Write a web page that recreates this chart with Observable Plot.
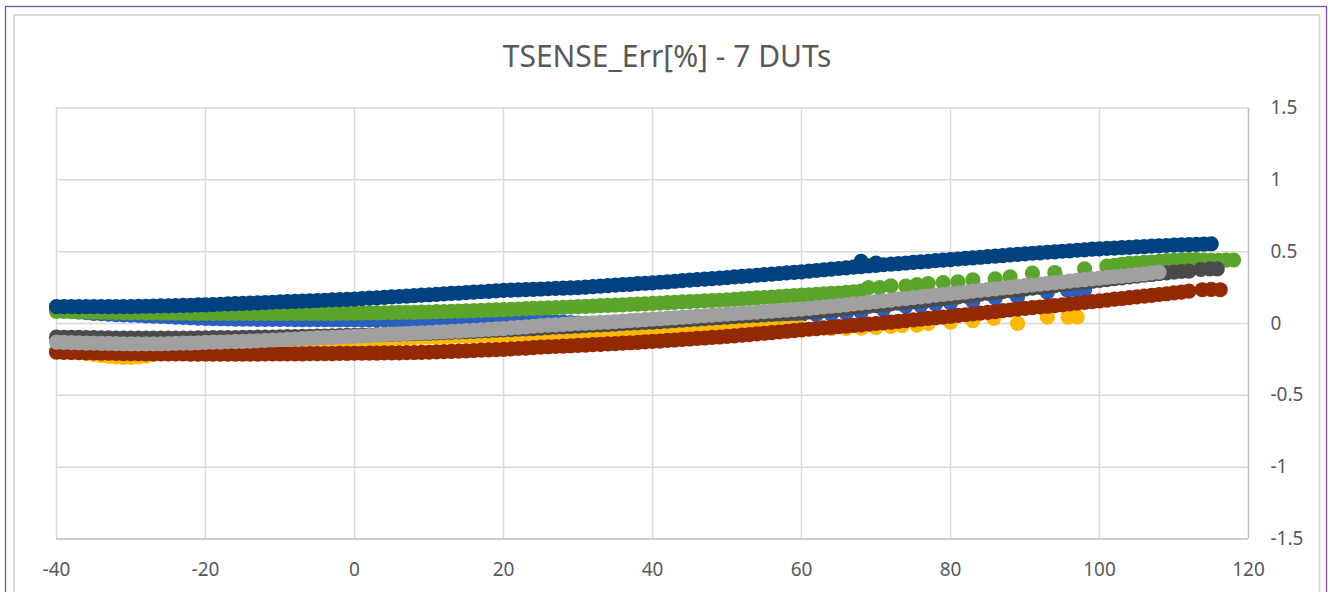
<!DOCTYPE html>
<html><head><meta charset="utf-8">
<script src="https://cdn.jsdelivr.net/npm/d3@7"></script>
<script src="https://cdn.jsdelivr.net/npm/@observablehq/plot@0.6"></script>
<style>body{margin:0;background:#fff;} #chart{width:1328px;height:592px;overflow:hidden}</style>
</head><body><div id="chart"></div>
<script>
const chartTitle = "TSENSE_Err[%] - 7 DUTs";
const xTicks = [-40,-20,0,20,40,60,80,100,120];
const yTicks = [-1.5,-1,-0.5,0,0.5,1,1.5];

// temperature of each dense sample (°C)
const temps = [-40,-39,-38,-37,-36,-35,-34,-33,-32,-31,-30,-29,-28,-27,-26,-25,-24,-23,-22,-21,-20,-19,-18,-17,-16,-15,-14,-13,-12,-11,-10,-9,-8,-7,-6,-5,-4,-3,-2,-1,0,1,2,3,4,5,6,7,8,9,10,11,12,13,14,15,16,17,18,19,20,21,22,23,24,25,26,27,28,29,30,31,32,33,34,35,36,37,38,39,40,41,42,43,44,45,46,47,48,49,50,51,52,53,54,55,56,57,58,59,60,61,62,63,64,65,66,67,68,69,70,71,72,73,74,75,76,77,78,79,80,81,82,83,84,85,86,87,88,89,90,91,92,93,94,95,96,97,98,99,100,101,102,103,104,105,106,107,108,109,110,111,112,113,114,115,116,117,118];

// DUT series (dense sweep values, aligned with temps)
const navyVals = [0.118,0.118,0.117,0.117,0.117,0.117,0.117,0.118,0.118,0.118,0.118,
0.119,0.12,0.121,0.122,0.123,0.124,0.126,0.127,0.129,0.13,
0.132,0.134,0.136,0.138,0.14,0.142,0.144,0.146,0.148,0.15,
0.152,0.154,0.156,0.158,0.16,0.162,0.164,0.166,0.168,0.17,
0.173,0.176,0.179,0.182,0.185,0.188,0.191,0.194,0.197,0.2,
0.203,0.206,0.209,0.212,0.215,0.218,0.221,0.224,0.227,0.23,
0.232,0.234,0.236,0.238,0.24,0.242,0.244,0.246,0.248,0.25,
0.253,0.257,0.26,0.263,0.267,0.27,0.273,0.277,0.28,0.283,
0.287,0.29,0.294,0.298,0.302,0.305,0.309,0.313,0.316,0.32,
0.324,0.328,0.332,0.336,0.34,0.344,0.348,0.352,0.356,0.36,
0.365,0.369,0.374,0.378,0.383,0.387,0.392,0.396,0.401,0.405,
0.409,0.413,0.417,0.421,0.425,0.429,0.433,0.437,0.441,0.445,
0.449,0.453,0.457,0.461,0.465,0.469,0.473,0.477,0.481,0.485,
0.489,0.492,0.496,0.499,0.503,0.506,0.51,0.513,0.517,0.52,
0.523,0.525,0.528,0.53,0.533,0.535,0.538,0.54,0.543,0.545,
0.547,0.549,0.551,0.553,0.555];
const navyExtraT = [68,70];
const navyExtraV = [0.432,0.42];

const greenVals = [0.085,0.084,0.083,0.082,0.081,0.08,0.079,0.078,0.077,0.076,0.075,
0.075,0.074,0.074,0.073,0.073,0.072,0.072,0.071,0.071,0.07,
0.07,0.07,0.07,0.07,0.07,0.07,0.07,0.07,0.07,0.07,
0.07,0.07,0.07,0.071,0.071,0.071,0.071,0.072,0.072,0.072,
0.073,0.074,0.074,0.075,0.076,0.077,0.077,0.078,0.079,0.08,
0.082,0.083,0.085,0.087,0.088,0.09,0.092,0.093,0.095,0.097,
0.099,0.101,0.103,0.105,0.107,0.109,0.111,0.113,0.115,0.117,
0.119,0.121,0.124,0.126,0.128,0.13,0.133,0.135,0.137,0.14,
0.142,0.145,0.147,0.15,0.152,0.155,0.157,0.16,0.162,0.165,
0.168,0.171,0.175,0.178,0.181,0.184,0.187,0.191,0.194,0.197,
0.2,0.203,0.206,0.209,0.212,0.216,0.22,0.225];
const greenExtraT = [69,70.5,72,74,75.5,77,79,81,83,86,88,91,94,98,101,102,103,104,105,106,107,108,109,110,111,112,113,114,115,116,117,118];
const greenExtraV = [0.25,0.25,0.262,0.26,0.27,0.278,0.285,0.29,0.303,0.31,0.325,0.35,0.355,0.38,0.4,0.405,0.412,0.418,0.42,0.425,0.428,0.432,0.437,0.44,0.443,0.445,0.444,0.442,0.44,0.44,0.441,0.442];

const blueVals = [0.1,0.093,0.086,0.08,0.075,0.071,0.068,0.065,0.062,0.06,0.058,
0.056,0.053,0.051,0.049,0.047,0.044,0.042,0.04,0.037,0.035,
0.034,0.033,0.032,0.031,0.03,0.03,0.029,0.029,0.028,0.028,
0.028,0.027,0.027,0.027,0.027,0.027,0.026,0.026,0.026,0.026,
0.026,0.026,0.026,0.026,0.026,0.026,0.027,0.027,0.027,0.027,
0.027,0.027,0.028,0.03,0.03,0.029,0.028,0.027,0.026,0.025,
0.023,0.021,0.019,0.017,0.015,0.013,0.011,0.009,0.006,0.002,
0.0,0.0,0.001,0.003,0.005,0.007,0.009,0.011,0.013,0.015,
0.018,0.02,0.023,0.025,0.028,0.03,0.033,0.035,0.038,0.04,
0.042,0.044,0.046,0.048,0.05,0.052,0.054,0.056,0.058,0.06];
const blueExtraT = [62,64,66,68,71,74,76,78,80,83,86,89,93,95.7,96.8,98];
const blueExtraV = [0.062,0.064,0.07,0.08,0.097,0.119,0.125,0.135,0.143,0.154,0.178,0.185,0.216,0.232,0.235,0.235];

const yellowVals = [-0.18,-0.186,-0.193,-0.2,-0.208,-0.215,-0.222,-0.228,-0.232,-0.235,-0.236,
-0.233,-0.225,-0.215,-0.207,-0.2,-0.196,-0.192,-0.188,-0.184,-0.18,
-0.177,-0.174,-0.171,-0.168,-0.165,-0.162,-0.159,-0.156,-0.153,-0.15,
-0.147,-0.144,-0.141,-0.138,-0.135,-0.132,-0.129,-0.126,-0.123,-0.12,
-0.117,-0.114,-0.111,-0.108,-0.105,-0.103,-0.1,-0.098,-0.096,-0.094,
-0.093,-0.091,-0.09,-0.088,-0.087,-0.086,-0.084,-0.083,-0.082,-0.08,
-0.078,-0.077,-0.075,-0.073,-0.072,-0.07,-0.068,-0.066,-0.064,-0.062,
-0.06,-0.059,-0.057,-0.055,-0.054,-0.052,-0.05,-0.049,-0.047,-0.045,
-0.044,-0.043,-0.042,-0.041,-0.04,-0.039,-0.038,-0.037,-0.036,-0.035,
-0.035,-0.034,-0.034,-0.033,-0.033,-0.032,-0.032,-0.031,-0.031,-0.03];
const yellowExtraT = [62,64,66,68,70,72,73.5,75.5,77,80,83,85.8,89,93,95.8,97];
const yellowExtraV = [-0.035,-0.036,-0.034,-0.032,-0.028,-0.02,-0.014,-0.012,0.0,0.01,0.02,0.035,0.0,0.044,0.044,0.044];

const darkGrayVals = [-0.095,-0.096,-0.097,-0.097,-0.098,-0.099,-0.1,-0.1,-0.101,-0.101,-0.102,
-0.102,-0.102,-0.102,-0.102,-0.102,-0.102,-0.101,-0.101,-0.1,-0.1,
-0.099,-0.099,-0.098,-0.098,-0.097,-0.096,-0.095,-0.095,-0.094,-0.093,
-0.092,-0.091,-0.09,-0.089,-0.088,-0.087,-0.086,-0.085,-0.083,-0.082,
-0.081,-0.08,-0.078,-0.077,-0.075,-0.074,-0.072,-0.071,-0.069,-0.068,
-0.066,-0.064,-0.061,-0.059,-0.057,-0.055,-0.052,-0.05,-0.047,-0.045,
-0.042,-0.04,-0.037,-0.035,-0.032,-0.029,-0.026,-0.024,-0.021,-0.018,
-0.015,-0.012,-0.01,-0.007,-0.004,-0.001,0.002,0.004,0.007,0.01,
0.013,0.017,0.02,0.024,0.027,0.031,0.034,0.038,0.041,0.045,
0.048,0.051,0.054,0.057,0.06,0.063,0.066,0.069,0.072,0.075,
0.08,0.085,0.09,0.095,0.1,0.105,0.11,0.115,0.12,0.125,
0.13,0.136,0.141,0.147,0.152,0.158,0.163,0.169,0.174,0.18,
0.186,0.192,0.198,0.204,0.21,0.216,0.222,0.228,0.234,0.24,
0.246,0.252,0.258,0.264,0.27,0.276,0.282,0.288,0.294,0.3,
0.306,0.312,0.318,0.324,0.33,0.336,0.341,0.347,0.352,0.358,
0.362,0.365];
const darkGrayExtraT = [113.6,114.8,115.8];
const darkGrayExtraV = [0.376,0.38,0.38];

const redVals = [-0.2,-0.201,-0.202,-0.203,-0.204,-0.205,-0.206,-0.207,-0.208,-0.209,-0.21,
-0.21,-0.211,-0.211,-0.211,-0.212,-0.212,-0.212,-0.213,-0.213,-0.213,
-0.213,-0.213,-0.213,-0.213,-0.213,-0.213,-0.213,-0.212,-0.212,-0.212,
-0.212,-0.211,-0.211,-0.21,-0.21,-0.209,-0.209,-0.208,-0.208,-0.207,
-0.207,-0.206,-0.206,-0.205,-0.205,-0.204,-0.203,-0.202,-0.201,-0.2,
-0.198,-0.196,-0.194,-0.192,-0.19,-0.188,-0.186,-0.184,-0.182,-0.18,
-0.177,-0.174,-0.171,-0.168,-0.165,-0.162,-0.16,-0.157,-0.155,-0.152,
-0.15,-0.147,-0.145,-0.142,-0.14,-0.137,-0.134,-0.131,-0.128,-0.125,
-0.122,-0.118,-0.115,-0.111,-0.108,-0.104,-0.101,-0.097,-0.094,-0.09,
-0.086,-0.081,-0.077,-0.072,-0.068,-0.063,-0.059,-0.054,-0.05,-0.045,
-0.04,-0.036,-0.031,-0.027,-0.022,-0.018,-0.013,-0.009,-0.004,0.0,
0.005,0.01,0.015,0.02,0.025,0.03,0.035,0.04,0.045,0.05,
0.056,0.061,0.067,0.072,0.078,0.083,0.089,0.094,0.1,0.105,
0.11,0.115,0.12,0.125,0.13,0.136,0.141,0.147,0.152,0.158,
0.163,0.169,0.174,0.18,0.185,0.191,0.196,0.202,0.207,0.213,
0.219,0.225];
const redExtraT = [113.8,115,116.2];
const redExtraV = [0.235,0.237,0.235];

const lightGrayVals = [-0.13,-0.131,-0.133,-0.134,-0.136,-0.137,-0.138,-0.139,-0.14,-0.141,-0.142,
-0.142,-0.142,-0.141,-0.141,-0.14,-0.139,-0.137,-0.136,-0.134,-0.132,
-0.13,-0.129,-0.127,-0.126,-0.124,-0.122,-0.12,-0.118,-0.115,-0.113,
-0.11,-0.108,-0.105,-0.103,-0.1,-0.098,-0.096,-0.094,-0.092,-0.09,
-0.087,-0.084,-0.08,-0.077,-0.074,-0.072,-0.07,-0.067,-0.065,-0.063,
-0.06,-0.058,-0.055,-0.053,-0.05,-0.047,-0.044,-0.041,-0.038,-0.035,
-0.031,-0.027,-0.023,-0.019,-0.015,-0.012,-0.009,-0.006,-0.003,0.0,
0.003,0.005,0.008,0.01,0.013,0.016,0.02,0.023,0.027,0.03,
0.033,0.037,0.04,0.044,0.047,0.051,0.054,0.058,0.061,0.065,
0.068,0.072,0.075,0.079,0.082,0.086,0.089,0.093,0.096,0.1,
0.105,0.11,0.115,0.12,0.125,0.13,0.136,0.141,0.147,0.152,
0.158,0.163,0.169,0.174,0.18,0.186,0.191,0.197,0.202,0.208,
0.214,0.219,0.225,0.23,0.236,0.241,0.247,0.252,0.258,0.263,
0.268,0.274,0.279,0.285,0.29,0.295,0.301,0.306,0.311,0.316,
0.321,0.326,0.33,0.335,0.34,0.346,0.352,0.358];

// draw order: first listed is at the bottom
const series = [
  {name:"DUT3", color:"#2a5fbf", vals:blueVals, extraT:blueExtraT, extraV:blueExtraV},
  {name:"DUT6", color:"#ffb900", vals:yellowVals, extraT:yellowExtraT, extraV:yellowExtraV},
  {name:"DUT2", color:"#5ba52a", vals:greenVals, extraT:greenExtraT, extraV:greenExtraV},
  {name:"DUT4", color:"#4a4a4a", vals:darkGrayVals, extraT:darkGrayExtraT, extraV:darkGrayExtraV},
  {name:"DUT7", color:"#922900", vals:redVals, extraT:redExtraT, extraV:redExtraV},
  {name:"DUT5", color:"#a0a0a0", vals:lightGrayVals, extraT:[], extraV:[]},
  {name:"DUT1", color:"#00427f", vals:navyVals, extraT:navyExtraT, extraV:navyExtraV}
];

const dotMarks = series.map(s => {
  const rows = s.vals.map((v, i) => ({t: temps[i], v}))
    .concat(s.extraT.map((t, i) => ({t, v: s.extraV[i]})));
  return Plot.dot(rows, {x: "t", y: "v", r: 7.6, fill: s.color, stroke: "none"});
});

const plot = Plot.plot({
  width: 1328, height: 592,
  marginLeft: 56, marginRight: 80, marginTop: 107.5, marginBottom: 53.5,
  x: {domain: [-40, 120], label: null},
  y: {domain: [-1.5, 1.5], label: null},
  style: {fontFamily: "'Noto Sans', sans-serif", fontSize: "19px", color: "#595959", background: "#ffffff"},
  marks: [
    Plot.ruleX(xTicks.filter(d => d < 120), {stroke: "#d9d9d9", strokeWidth: 1.5}),
    Plot.ruleY(yTicks.filter(d => d > -1.5), {stroke: "#d9d9d9", strokeWidth: 1.5}),
    Plot.ruleX([120], {stroke: "#bfbfbf", strokeWidth: 1.5}),
    Plot.ruleY([-1.5], {stroke: "#bfbfbf", strokeWidth: 1.5}),
    ...dotMarks,
    Plot.axisX(xTicks, {anchor: "bottom", tickSize: 0, tickPadding: 23, tickFormat: d => String(d), fill: "#595959", fontSize: 19, label: null}),
    Plot.axisY(yTicks, {anchor: "right", tickSize: 0, tickPadding: 22, tickFormat: d => String(d), fill: "#595959", fontSize: 19, label: null})
  ]
});

const svg = d3.select(plot);
svg.append("rect").attr("x", 5.5).attr("y", 6.5).attr("width", 1321).attr("height", 620)
  .attr("fill", "none").attr("stroke", "#7a4fa5").attr("stroke-width", 1.3);
svg.append("rect").attr("x", 14).attr("y", 15).attr("width", 1305.5).attr("height", 620)
  .attr("fill", "none").attr("stroke", "#d9d9d9").attr("stroke-width", 2);
svg.append("text").attr("x", 667).attr("y", 67).attr("text-anchor", "middle")
  .attr("font-family", "'Noto Sans', sans-serif").attr("font-size", 30).attr("fill", "#595959")
  .text(chartTitle);

document.getElementById("chart").appendChild(plot);
</script>
</body></html>
